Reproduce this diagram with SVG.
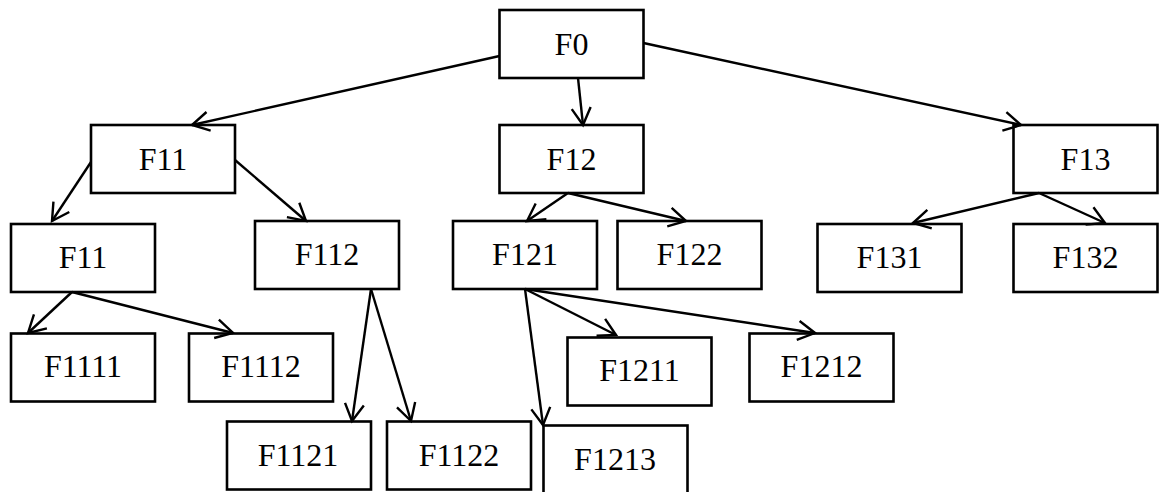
<svg xmlns="http://www.w3.org/2000/svg" width="1163" height="492" viewBox="0 0 1163 492">
<style>
.box rect{fill:#fff;stroke:#000;stroke-width:2.6}
.box text{font-family:"Liberation Serif","Times New Roman",serif;font-size:32px;fill:#000;text-anchor:middle}
.conn line{stroke:#000;stroke-width:2.4;marker-end:url(#arr)}
</style>
<defs>
<marker id="arr" markerUnits="userSpaceOnUse" orient="auto" refX="0" refY="0" markerWidth="40" markerHeight="40" viewBox="-20 -20 40 40" overflow="visible">
<path d="M-17,-9.5 L0,0 L-17,9.5" fill="none" stroke="#000" stroke-width="2.4"/>
</marker>
</defs>
<rect width="1163" height="492" fill="#fff"/>
<g id="n-F0" class="box"><rect x="499.5" y="10" width="144" height="68"/><text x="571.5" y="55">F0</text></g>
<g id="n-F11" class="box"><rect x="91" y="125" width="144" height="68"/><text x="163" y="170">F11</text></g>
<g id="n-F12" class="box"><rect x="499.5" y="125" width="144" height="68"/><text x="571.5" y="170">F12</text></g>
<g id="n-F13" class="box"><rect x="1013.5" y="125" width="144" height="68"/><text x="1085.5" y="170">F13</text></g>
<g id="n-F11b" class="box"><rect x="11" y="224" width="144" height="68"/><text x="83" y="268">F11</text></g>
<g id="n-F112" class="box"><rect x="255" y="221" width="144" height="68"/><text x="327" y="265">F112</text></g>
<g id="n-F121" class="box"><rect x="453" y="221" width="144" height="68"/><text x="525" y="265">F121</text></g>
<g id="n-F122" class="box"><rect x="617.5" y="221" width="144" height="68"/><text x="689.5" y="265">F122</text></g>
<g id="n-F131" class="box"><rect x="817.5" y="224" width="144" height="68"/><text x="889.5" y="268">F131</text></g>
<g id="n-F132" class="box"><rect x="1013.5" y="224" width="144" height="68"/><text x="1085.5" y="268">F132</text></g>
<g id="n-F1111" class="box"><rect x="11" y="333.5" width="144" height="68"/><text x="83" y="377">F1111</text></g>
<g id="n-F1112" class="box"><rect x="189" y="333.5" width="144" height="68"/><text x="261" y="377">F1112</text></g>
<g id="n-F1211" class="box"><rect x="567.5" y="337.5" width="144" height="68"/><text x="639.5" y="381">F1211</text></g>
<g id="n-F1212" class="box"><rect x="749.5" y="333.5" width="144" height="68"/><text x="821.5" y="377">F1212</text></g>
<g id="n-F1121" class="box"><rect x="227" y="421.5" width="144" height="68"/><text x="298" y="465.5">F1121</text></g>
<g id="n-F1122" class="box"><rect x="387" y="421.5" width="144" height="68"/><text x="459" y="465.5">F1122</text></g>
<g id="n-F1213" class="box"><rect x="543.5" y="425.5" width="144" height="68"/><text x="615" y="469.5">F1213</text></g>
<g id="connectors" class="conn">
<line x1="499.5" y1="56" x2="192" y2="125"/>
<line x1="578" y1="78" x2="583" y2="125"/>
<line x1="643.5" y1="43" x2="1021" y2="125"/>
<line x1="91" y1="162" x2="52" y2="221"/>
<line x1="235" y1="160" x2="306" y2="221"/>
<line x1="72" y1="292" x2="28" y2="333"/>
<line x1="72" y1="292" x2="233" y2="333"/>
<line x1="371" y1="289" x2="352" y2="421"/>
<line x1="371" y1="289" x2="411" y2="421"/>
<line x1="568" y1="193" x2="527" y2="221"/>
<line x1="568" y1="193" x2="686" y2="221"/>
<line x1="1039" y1="193" x2="913" y2="223"/>
<line x1="1039" y1="193" x2="1105" y2="223"/>
<line x1="525" y1="289" x2="543" y2="425"/>
<line x1="525" y1="289" x2="616" y2="335"/>
<line x1="525" y1="289" x2="815" y2="333"/>
</g>
</svg>
